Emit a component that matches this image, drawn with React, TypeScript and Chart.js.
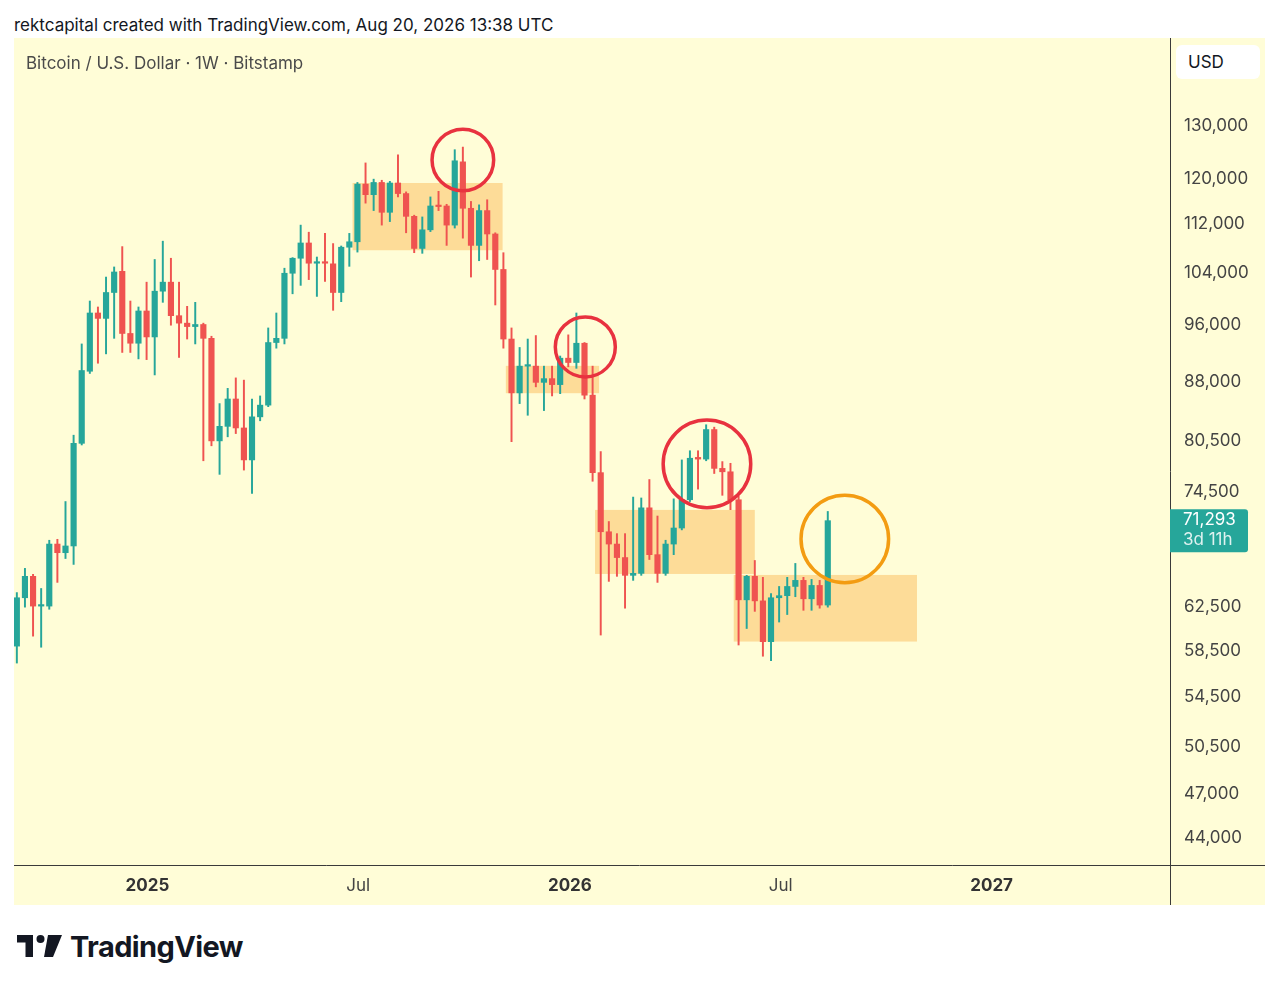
import React, { useEffect, useRef } from "react";
import { Chart, registerables } from "chart.js";

Chart.register(...registerables);

// ---- Weekly candles (BTC/USD, Bitstamp, 1W) ----
const opens = [
  58900, 63400, 65500, 62600, 62600, 68800, 67900, 68600, 80200, 89500,
  97800, 97000, 100900, 104200, 94800, 93400, 98100, 94300, 101100, 102500,
  97400, 96300, 95800, 96100, 94100, 80500, 82300, 85800, 82100, 78200,
  83500, 85000, 93500, 94100, 103900, 106300, 108800, 105500, 105700, 105400,
  100900, 108100, 109000, 119000, 117100, 119300, 114000, 119200, 117300, 113300,
  107900, 111000, 115200, 115100, 111800, 123100, 114700, 108400, 114300, 110300,
  104500, 94000, 86600, 90200, 90200, 88000, 88500, 87700, 91300, 90700,
  93400, 86300, 76700, 70100, 68800, 67400, 65600, 65800, 72700, 67700,
  65800, 68800, 70500, 73600, 78500, 78300, 81900, 77200, 76800, 73600,
  63200, 65500, 63100, 59300, 63400, 63600, 64500, 65100, 63300, 64600,
  62700,
];
const highs = [
  63900, 66300, 65700, 64300, 69200, 69300, 73400, 81200, 93300, 99600,
  98700, 103300, 104900, 108200, 99600, 98700, 102500, 106100, 109100, 106300,
  102500, 98800, 99400, 96300, 94400, 85200, 87200, 88600, 88300, 85800,
  86200, 95600, 97800, 104700, 106400, 111800, 110600, 106500, 110400, 108700,
  108300, 110400, 119300, 122900, 119900, 119700, 119500, 124400, 117600, 113500,
  113200, 116700, 117700, 115400, 125400, 125900, 115900, 115300, 116200, 110500,
  107200, 95600, 92800, 94000, 94500, 90200, 90200, 91600, 94600, 97800,
  93500, 90200, 79200, 71200, 69900, 69900, 73900, 73800, 75900, 71800,
  69200, 73700, 78200, 79300, 79300, 82500, 82200, 78000, 77800, 74000,
  65600, 67100, 65400, 63800, 64500, 65400, 66800, 65400, 65200, 65100,
  72300,
];
const lows = [
  57400, 62500, 59800, 58800, 62300, 64900, 67300, 66700, 80000, 89200,
  90600, 91900, 94100, 92100, 92100, 91200, 91100, 89000, 99400, 96000,
  91400, 94000, 93300, 78100, 79900, 76500, 81000, 81400, 77000, 74300,
  83000, 84800, 92700, 93300, 100700, 102000, 102900, 100300, 102600, 98200,
  99500, 105000, 107300, 115600, 114300, 111800, 112400, 116700, 110500, 107200,
  107100, 110700, 114300, 108400, 111300, 109600, 103300, 105900, 106100, 99000,
  92700, 80400, 85200, 83700, 87400, 84300, 86200, 86500, 90100, 89900,
  85800, 75700, 59900, 65000, 65500, 62400, 65100, 65600, 67200, 64900,
  65600, 67700, 70300, 73400, 74800, 78100, 76600, 74100, 72500, 59000,
  60500, 62100, 58000, 57600, 61100, 61800, 63500, 62200, 62200, 62400,
  62500,
];
const closes = [
  63400, 65500, 62600, 62700, 68800, 67900, 68600, 80200, 89600, 97800,
  97000, 100900, 104100, 94800, 93400, 98100, 94300, 101100, 102500, 97400,
  96300, 95800, 96100, 94100, 80500, 82300, 85800, 82100, 78200, 83500,
  85000, 93500, 94100, 103900, 106300, 108800, 105500, 105700, 105500, 100900,
  108100, 109000, 119000, 117100, 119300, 114000, 119200, 117300, 113300, 107900,
  111000, 115100, 115000, 111800, 123300, 114700, 108400, 114300, 110300, 104500,
  94000, 86600, 90200, 90300, 88000, 88500, 87700, 91300, 90700, 93400,
  86300, 76700, 70100, 68800, 67400, 65600, 65800, 72700, 67700, 65800,
  68800, 70500, 73600, 78400, 78300, 81900, 77200, 76800, 73600, 63200,
  65500, 63100, 59300, 63400, 63600, 64500, 65100, 63300, 64600, 62700,
  71293,
];
const weekIndex = opens.map((_, i) => i);

// ---- Axes ----
const yTickValues = [44000, 47000, 50500, 54500, 58500, 62500, 74500, 80500, 88000, 96000, 104000, 112000, 120000, 130000];
const xTickWeeks = [16.1, 42.1, 68.2, 94.2, 120.2];
const xTickLabels = ["2025", "Jul", "2026", "Jul", "2027"];
const priceMin = 42210;
const priceMax = 148640;
const weekMin = -0.35;
const weekMax = 142.2;

// ---- Drawings ----
const boxStart = [41.4, 60.3, 71.3, 88.4];
const boxEnd = [59.9, 71.8, 91.0, 111.0];
const boxHigh = [119200, 90240, 72470, 65640];
const boxLow = [107600, 86560, 65740, 59310];

const circleWeek = [55.0, 70.1, 85.1, 102.1];
const circlePrice = [123440, 92880, 77730, 69340];
const circleRadiusWeeks = [3.8, 3.7, 5.4, 5.4];
const circleKind = ["red", "red", "red", "orange"];

const lastPriceText = "71,293";
const countdownText = "3d 11h";

// ---- Styles ----
const FONT = 'Inter, "Noto Sans", "DejaVu Sans", sans-serif';
const UP = "#26A69A";
const DOWN = "#EF5350";
const BG = "#FFFDD7";
const BOX_FILL = "#FDDC98";
const AXIS_LINE = "#3a3a3a";
const CIRCLE_COLORS: Record<string, string> = { red: "#E8323F", orange: "#F39C12" };

const overlayPlugin = {
  id: "tvOverlay",
  beforeDatasetsDraw(chart: any) {
    const { ctx, chartArea, scales } = chart;
    const x = scales.x;
    const y = scales.y;
    ctx.save();
    ctx.beginPath();
    ctx.rect(chartArea.left, chartArea.top, chartArea.width, chartArea.height);
    ctx.clip();
    ctx.fillStyle = BOX_FILL;
    boxStart.forEach((s, i) => {
      const x0 = x.getPixelForValue(s);
      const x1 = x.getPixelForValue(boxEnd[i]);
      const y0 = y.getPixelForValue(boxHigh[i]);
      const y1 = y.getPixelForValue(boxLow[i]);
      ctx.fillRect(x0, y0, x1 - x0, y1 - y0);
    });
    ctx.restore();
  },
  afterDatasetsDraw(chart: any) {
    const { ctx, chartArea, scales } = chart;
    const x = scales.x;
    const y = scales.y;
    ctx.save();
    ctx.beginPath();
    ctx.rect(chartArea.left, chartArea.top, chartArea.width, chartArea.height);
    ctx.clip();
    circleWeek.forEach((w, i) => {
      const cx = x.getPixelForValue(w);
      const cy = y.getPixelForValue(circlePrice[i]);
      const r = x.getPixelForValue(w + circleRadiusWeeks[i]) - cx;
      ctx.beginPath();
      ctx.arc(cx, cy, r, 0, Math.PI * 2);
      ctx.strokeStyle = CIRCLE_COLORS[circleKind[i]];
      ctx.lineWidth = 3.5;
      ctx.stroke();
    });
    ctx.restore();
  },
  afterDraw(chart: any) {
    const { ctx, chartArea, scales, width, height } = chart;
    const y = scales.y;
    ctx.save();
    // axis lines
    ctx.strokeStyle = AXIS_LINE;
    ctx.lineWidth = 1;
    const vx = Math.round(chartArea.right) + 0.5;
    const hy = Math.round(chartArea.bottom) + 0.5;
    ctx.beginPath();
    ctx.moveTo(vx, 0);
    ctx.lineTo(vx, height);
    ctx.moveTo(0, hy);
    ctx.lineTo(width, hy);
    ctx.stroke();

    // last price label
    const py = y.getPixelForValue(closes[closes.length - 1]);
    const lx = chartArea.right;
    const lw = 78;
    const top = py - 11.5;
    const h = 43;
    const rr = 3;
    ctx.fillStyle = UP;
    ctx.beginPath();
    ctx.moveTo(lx, top);
    ctx.lineTo(lx + lw - rr, top);
    ctx.quadraticCurveTo(lx + lw, top, lx + lw, top + rr);
    ctx.lineTo(lx + lw, top + h - rr);
    ctx.quadraticCurveTo(lx + lw, top + h, lx + lw - rr, top + h);
    ctx.lineTo(lx, top + h);
    ctx.closePath();
    ctx.fill();
    ctx.textAlign = "left";
    ctx.textBaseline = "middle";
    ctx.font = `17px ${FONT}`;
    ctx.fillStyle = "#ffffff";
    ctx.fillText(lastPriceText, lx + 13, top + 10.5);
    ctx.fillStyle = "rgba(255,255,255,0.85)";
    ctx.fillText(countdownText, lx + 13, top + 31);
    ctx.restore();
  },
};

function CandleChart() {
  const ref = useRef<HTMLCanvasElement | null>(null);
  useEffect(() => {
    if (!ref.current) return;
    Chart.defaults.font.family = FONT;
    const colors = weekIndex.map((i) => (closes[i] >= opens[i] ? UP : DOWN));
    const chart = new Chart(ref.current, {
      type: "bar",
      data: {
        datasets: [
          {
            label: "body",
            data: weekIndex.map((i) => ({ x: i, y: [opens[i], closes[i]] })) as any,
            backgroundColor: colors,
            borderWidth: 0,
            barThickness: 5.5,
            minBarLength: 1.5,
            grouped: false,
          } as any,
          {
            label: "wick",
            data: weekIndex.map((i) => ({ x: i, y: [lows[i], highs[i]] })) as any,
            backgroundColor: colors,
            borderWidth: 0,
            barThickness: 1.3,
            grouped: false,
          } as any,
        ],
      },
      options: {
        animation: false,
        responsive: false,
        maintainAspectRatio: false,
        layout: { padding: 0 },
        plugins: { legend: { display: false }, tooltip: { enabled: false } },
        scales: {
          x: {
            type: "linear",
            min: weekMin,
            max: weekMax,
            offset: false,
            bounds: "data",
            grid: { display: false, drawTicks: false },
            border: { display: false },
            afterBuildTicks: (scale: any) => {
              scale.ticks = xTickWeeks.map((v) => ({ value: v }));
            },
            afterFit: (scale: any) => {
              scale.height = 40;
              scale.paddingLeft = 0;
              scale.paddingRight = 0;
            },
            ticks: {
              autoSkip: false,
              maxRotation: 0,
              padding: 11,
              color: (ctx: any) => (/^\d{4}$/.test(xTickLabels[ctx.index]) ? "#333333" : "#444444"),
              font: (ctx: any) => ({
                family: FONT,
                size: 17,
                weight: /^\d{4}$/.test(xTickLabels[ctx.index]) ? "bold" : "normal",
              }),
              callback: (_v: any, i: number) => xTickLabels[i],
            },
          },
          y: {
            type: "logarithmic",
            position: "right",
            min: priceMin,
            max: priceMax,
            bounds: "data",
            grid: { display: false, drawTicks: false },
            border: { display: false },
            afterBuildTicks: (scale: any) => {
              scale.ticks = yTickValues.map((v) => ({ value: v }));
            },
            afterFit: (scale: any) => {
              scale.width = 95;
              scale.paddingTop = 0;
              scale.paddingBottom = 0;
            },
            ticks: {
              autoSkip: false,
              padding: 14,
              color: "#444444",
              font: { family: FONT, size: 17 },
              callback: (v: any) => Number(v).toLocaleString("en-US"),
            },
          },
        },
      } as any,
      plugins: [overlayPlugin],
    });
    return () => chart.destroy();
  }, []);
  return (
    <canvas
      ref={ref}
      width={1251}
      height={867}
      style={{ position: "absolute", left: 14, top: 38, width: 1251, height: 867, background: BG }}
    />
  );
}

function Logo() {
  return (
    <div style={{ position: "absolute", left: 17, top: 930, display: "flex", alignItems: "center", height: 32 }}>
      <svg width="46" height="24" viewBox="0 0 46 24" style={{ marginRight: 7 }}>
        <path d="M0 1 H16 V23 H8.5 V8.5 H0 Z" fill="#131722" />
        <circle cx="23.5" cy="5" r="4" fill="#131722" />
        <path d="M31 1 H45 L36 23 H27 Z" fill="#131722" />
      </svg>
      <span style={{ fontFamily: FONT, fontWeight: 700, fontSize: 29, color: "#131722", letterSpacing: -0.6 }}>
        TradingView
      </span>
    </div>
  );
}

export default function App() {
  return (
    <div style={{ position: "absolute", left: 0, top: 0, width: 1280, height: 989, background: "#ffffff", overflow: "hidden" }}>
      <div
        style={{ position: "absolute", left: 14, top: 14, fontFamily: FONT, fontSize: 17, lineHeight: "22px", color: "#131722", whiteSpace: "nowrap" }}
      >
        rektcapital created with TradingView.com, Aug 20, 2026 13:38 UTC
      </div>
      <CandleChart />
      <div
        style={{ position: "absolute", left: 26, top: 52, fontFamily: FONT, fontSize: 17, lineHeight: "22px", color: "#4a4a4a", whiteSpace: "nowrap" }}
      >
        Bitcoin / U.S. Dollar · 1W · Bitstamp
      </div>
      <div
        style={{
          position: "absolute",
          left: 1176,
          top: 45,
          width: 84,
          height: 34,
          background: "#ffffff",
          borderRadius: 6,
          boxSizing: "border-box",
          paddingLeft: 12,
          fontFamily: FONT,
          fontSize: 17,
          lineHeight: "34px",
          color: "#131722",
        }}
      >
        USD
      </div>
      <Logo />
    </div>
  );
}
